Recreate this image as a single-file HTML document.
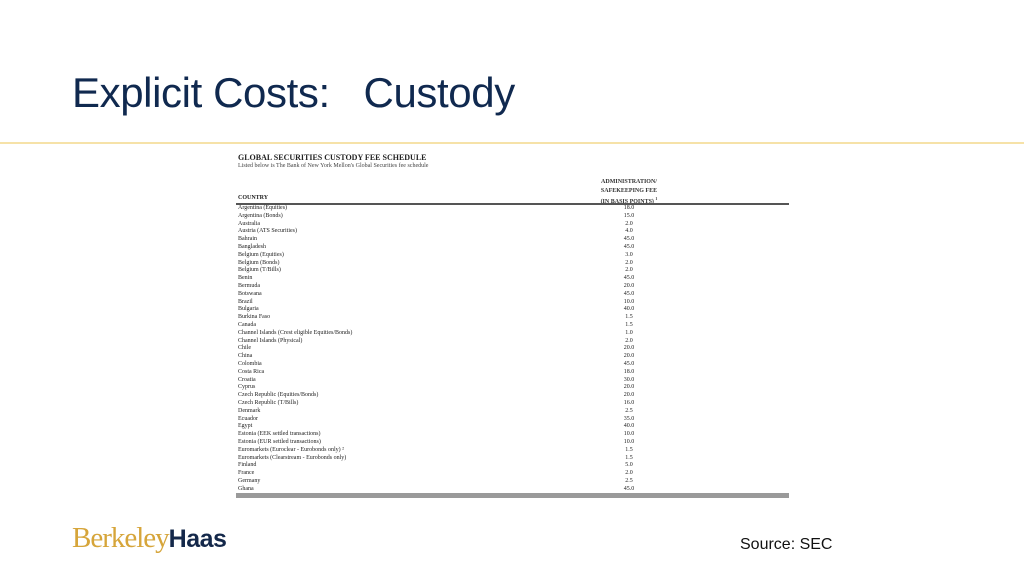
<!DOCTYPE html>
<html><head><meta charset="utf-8"><style>
body{margin:0;width:1024px;height:576px;background:#fff;position:relative;overflow:hidden;font-family:"Liberation Sans",sans-serif}
.abs{position:absolute}
#title{left:72px;top:69px;font-size:42px;color:#10294f;white-space:pre;letter-spacing:-0.4px}
#rule{left:0;top:142px;width:1024px;height:2px;background:#f6e2a8}
#tbl{left:236px;top:150px;width:553px;height:350px;font-family:"Liberation Serif",serif;color:#222}
.r{position:absolute;left:2px;font-size:6px;line-height:8px;white-space:nowrap}
.v{position:absolute;left:380px;width:26px;text-align:center;font-size:6px;line-height:8px}
</style></head><body>
<div id="title" class="abs">Explicit Costs:   Custody</div>
<div id="rule" class="abs"></div>
<div id="tbl" class="abs">
  <div class="abs" style="left:2px;top:3px;font-size:8px;font-weight:bold;color:#222">GLOBAL SECURITIES CUSTODY FEE SCHEDULE</div>
  <div class="abs" style="left:2px;top:13px;font-size:6px;color:#444">Listed below is The Bank of New York Mellon's Global Securities fee schedule</div>
  <div class="abs" style="left:352px;top:28px;width:82px;text-align:center;font-size:6px;line-height:8.5px;font-weight:bold;color:#333">ADMINISTRATION/<br>SAFEKEEPING FEE<br>(IN BASIS POINTS) <sup style="font-size:4px">1</sup></div>
  <div class="abs" style="left:2px;top:45px;font-size:6px;font-weight:bold">COUNTRY</div>
  <div class="abs" style="left:0;top:53px;width:553px;height:1.5px;background:#555"></div>
  <div id="rows"></div>
  <div class="abs" style="left:0;top:343px;width:553px;height:5px;background:#9a9a9a"></div>
</div>
<div class="abs" style="left:72px;top:522px;font-family:'Liberation Serif',serif;font-size:29px;color:#d6a53a;letter-spacing:-1px">Berkeley<span style="font-family:'Liberation Sans',sans-serif;font-weight:bold;color:#14284a;font-size:25px;letter-spacing:-0.5px">Haas</span></div>
<div class="abs" style="left:740px;top:536px;font-size:16px;color:#111">Source:  SEC</div>
<script>
const countries=["Argentina (Equities)","Argentina (Bonds)","Australia","Austria (ATS Securities)","Bahrain","Bangladesh","Belgium (Equities)","Belgium (Bonds)","Belgium (T/Bills)","Benin","Bermuda","Botswana","Brazil","Bulgaria","Burkina Faso","Canada","Channel Islands (Crest eligible Equities/Bonds)","Channel Islands (Physical)","Chile","China","Colombia","Costa Rica","Croatia","Cyprus","Czech Republic (Equities/Bonds)","Czech Republic (T/Bills)","Denmark","Ecuador","Egypt","Estonia (EEK settled transactions)","Estonia (EUR settled transactions)","Euromarkets (Euroclear - Eurobonds only) ²","Euromarkets (Clearstream - Eurobonds only)","Finland","France","Germany","Ghana"];
const fees=[18.0,15.0,2.0,4.0,45.0,45.0,3.0,2.0,2.0,45.0,20.0,45.0,10.0,40.0,1.5,1.5,1.0,2.0,20.0,20.0,45.0,18.0,30.0,20.0,20.0,16.0,2.5,35.0,40.0,10.0,10.0,1.5,1.5,5.0,2.0,2.5,45.0];
const rows=document.getElementById('rows');
countries.forEach((c,i)=>{
  const top=54+i*7.8;
  const a=document.createElement('div');a.className='r';a.style.top=top+'px';a.textContent=c;
  
  
  const b=document.createElement('div');b.className='v';b.style.top=top+'px';b.textContent=fees[i].toFixed(1);
  
  
  rows.appendChild(a);rows.appendChild(b);
});
</script>
</body></html>
